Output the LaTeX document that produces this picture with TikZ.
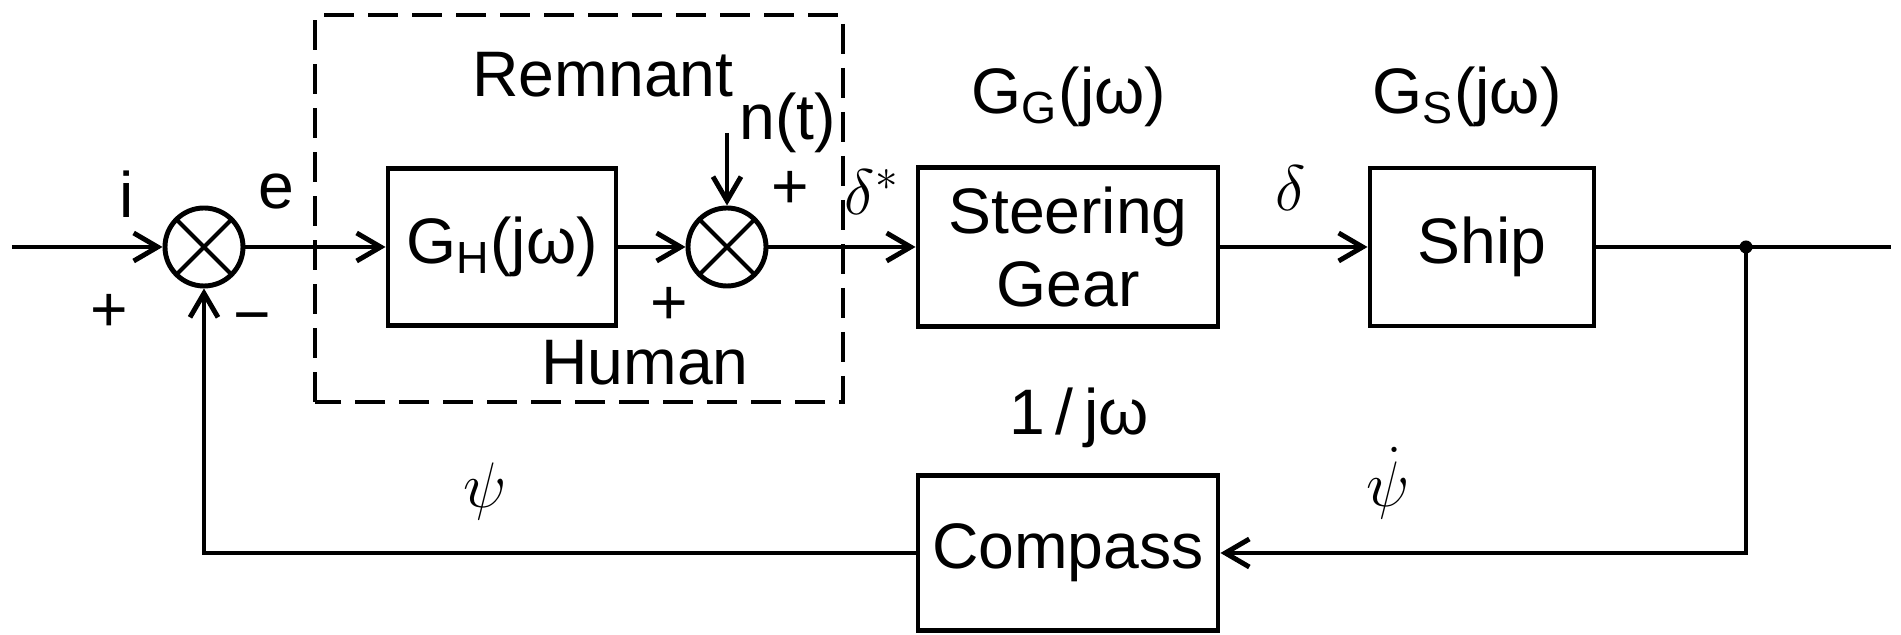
\RequirePackage{fix-cm}
\documentclass[tikz,border=0pt]{standalone}
\usepackage{fontspec}
\setmainfont{Liberation Sans}
\usepackage{tikz}
\usetikzlibrary{arrows.meta}
\usetikzlibrary{positioning}

\begin{document}
\begin{tikzpicture}[
    line width=1.4pt,
    font=\fontsize{18.3pt}{21pt}\selectfont,
    bloc/.style={draw, inner sep=0pt, align=center},
    sommateur/.style={draw, circle, minimum size=0.78cm, inner sep=0pt,
        path picture={\draw[line width=1.2pt]
            (path picture bounding box.north west) -- (path picture bounding box.south east)
            (path picture bounding box.north east) -- (path picture bounding box.south west);}},
    fleche/.style={-{Straight Barb[length=2.4mm,width=2.8mm]}},
    signe/.style={inner sep=0pt}
]
    \useasboundingbox (0,0) rectangle (19.01,6.35);

    % Boucle principale
    \coordinate (entree) at (0.12,3.88);
    \coordinate (sortie) at (18.91,3.88);
    \coordinate (noeud) at (17.46,3.88);
    \coordinate (bruit) at (7.27,5.02);

    \node[sommateur] (som1) at (2.04,3.88) {};
    \node[bloc, minimum width=2.28cm, minimum height=1.57cm] (gh) at (5.02,3.88) {G\textsubscript{H}(jω)};
    \node[sommateur] (som2) at (7.27,3.88) {};
    \node[bloc, minimum width=3.00cm, minimum height=1.59cm] (gear) at (10.68,3.88) {Steering\\Gear};
    \node[bloc, minimum width=2.24cm, minimum height=1.58cm] (ship) at (14.82,3.88) {Ship};
    \node[bloc, minimum width=3.00cm, minimum height=1.55cm] (compass) at (10.68,0.82) {Compass};

    % Cadre "Human"
    \draw[dashed, dash pattern=on 3mm off 1.4mm] (3.15,2.33) rectangle (8.43,6.20);

    \draw[fleche] (entree) -- (som1);
    \draw[fleche] (som1) -- (gh);
    \draw[fleche] (gh) -- (som2);
    \draw[fleche] (som2) -- (gear);
    \draw[fleche] (gear) -- (ship);
    \draw (ship) -- (sortie);
    \draw[fleche] (bruit) -- (som2);
    \fill (noeud) circle (0.065);

    % Retour par le compas
    \draw[fleche] (noeud) |- (compass);
    \draw[fleche] (compass) -| (som1);

    % Textes
    \node (lblI) at (1.27,4.41) {i};
    \node[signe] (plusA) at (1.09,3.22) {+};
    \node (lblE) at (2.76,4.43) {e};
    \node[signe] (moinsA) at (2.52,3.10) {−};
    \node[signe] (remnant) at (6.03,5.60) {Remnant};
    \node[signe] (lblN) at (7.88,5.12) {n(t)};
    \node[signe] (plusB) at (7.90,4.45) {+};
    \node[signe] (plusC) at (6.69,3.29) {+};
    \node[signe] (human) at (6.45,2.72) {Human};
    \node (lblDs) at (8.72,4.43) {$\delta^{*}$};
    \node (lblGG) at (10.69,5.38) {G\textsubscript{G}(jω)};
    \node (lblGS) at (14.67,5.38) {G\textsubscript{S}(jω)};
    \node (lblD) at (12.91,4.47) {$\delta$};
    \node (lblInt) at (10.79,2.17) {1\,/\,jω};
    \node[signe] (lblPsiDot) at (13.88,1.52) {$\dot{\psi}$};
    \node (lblPsi) at (4.85,1.44) {$\psi$};
\end{tikzpicture}
\end{document}
